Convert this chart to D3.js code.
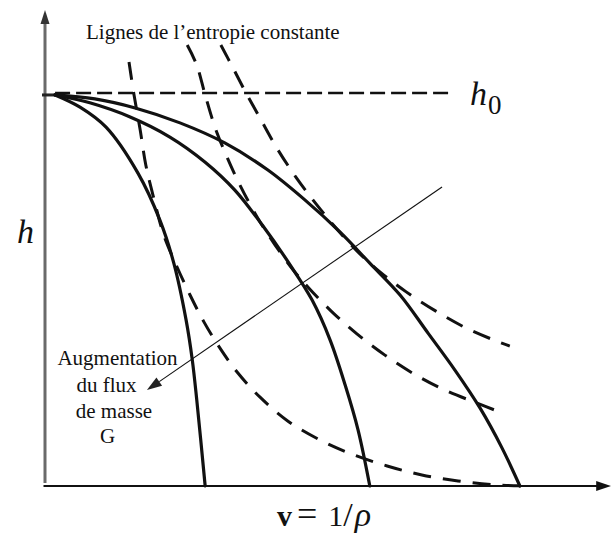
<!DOCTYPE html>
<html><head><meta charset="utf-8">
<script src="https://cdn.jsdelivr.net/npm/d3@7"></script>
<style>
html,body{margin:0;padding:0;background:#fff;}
svg{display:block;}
text{font-family:"Liberation Serif","Times New Roman",serif;fill:#111;}
</style></head><body>
<svg id="chart" width="611" height="536"></svg>
<script>
// Lignes à flux de masse G constant (traits pleins), points (v, h) en unités réduites (h0 = 1)
const lineG1 = [[0.018,0.995],[0.0625,0.964],[0.109,0.913],[0.166,0.796],[0.205,0.677],[0.230,0.567],[0.252,0.422],[0.263,0.321],[0.271,0.219],[0.286,0]];
const lineG2 = [[0.018,0.995],[0.080,0.975],[0.152,0.939],[0.223,0.888],[0.286,0.824],[0.339,0.753],[0.388,0.664],[0.438,0.562],[0.477,0.473],[0.509,0.372],[0.536,0.257],[0.559,0.143],[0.580,0]];
const lineG3 = [[0.018,0.995],[0.089,0.985],[0.161,0.962],[0.241,0.924],[0.321,0.873],[0.398,0.804],[0.464,0.728],[0.527,0.646],[0.580,0.567],[0.634,0.486],[0.684,0.389],[0.732,0.295],[0.777,0.198],[0.816,0.097],[0.848,0]];

// Lignes d'entropie constante (tirets)
const isentropeA = [[0.150,1.079],[0.159,0.995],[0.170,0.906],[0.180,0.817],[0.195,0.728],[0.212,0.639],[0.234,0.563],[0.259,0.486],[0.284,0.417],[0.311,0.354],[0.343,0.290],[0.384,0.226],[0.434,0.165],[0.491,0.117],[0.548,0.081],[0.611,0.051],[0.673,0.028],[0.7375,0.013],[0.804,0.003],[0.866,0]];
const isentropeB = [[0.254,1.122],[0.271,1.071],[0.286,0.995],[0.304,0.911],[0.325,0.837],[0.348,0.766],[0.379,0.684],[0.411,0.613],[0.443,0.550],[0.471,0.504],[0.511,0.445],[0.557,0.387],[0.607,0.333],[0.659,0.285],[0.714,0.244],[0.775,0.209],[0.8125,0.188]];
const isentropeC = [[0.314,1.122],[0.336,1.063],[0.359,1.0],[0.386,0.931],[0.414,0.860],[0.448,0.786],[0.484,0.718],[0.520,0.656],[0.557,0.598],[0.598,0.545],[0.645,0.494],[0.698,0.445],[0.752,0.402],[0.811,0.366],[0.830,0.356]];

// Enthalpie d'arrêt h0 et sens d'augmentation de G
const h0Level = 1;
const h0Span = [0.018, 0.729];
const arrowFrom = [0.709, 0.761];
const arrowTo = [0.182, 0.244];
const axisEnd = {v: 1.011, h: 1.211};

const svg = d3.select("#chart");
const x = d3.scaleLinear().domain([0, 1]).range([45, 605]);
const y = d3.scaleLinear().domain([0, 1]).range([486, 93]);

const line = d3.line().x(d => x(d[0])).y(d => y(d[1])).curve(d3.curveCatmullRom.alpha(0.5));

// Axes
svg.append("line").attr("x1", x(0)).attr("y1", y(0) - 3).attr("x2", x(0)).attr("y2", y(axisEnd.h) + 8)
  .attr("stroke", "#6a6a6a").attr("stroke-width", 3);
svg.append("path")
  .attr("d", `M${x(0)},${y(axisEnd.h)} L${x(0) - 4.5},${y(axisEnd.h) + 14} L${x(0) + 4.5},${y(axisEnd.h) + 14} Z`)
  .attr("fill", "#333");
svg.append("line").attr("x1", x(0) - 1.5).attr("y1", y(0)).attr("x2", x(axisEnd.v) - 12).attr("y2", y(0))
  .attr("stroke", "#111").attr("stroke-width", 2.2);
svg.append("path")
  .attr("d", `M${x(axisEnd.v)},${y(0)} L${x(axisEnd.v) - 15},${y(0) - 5} L${x(axisEnd.v) - 15},${y(0) + 5} Z`)
  .attr("fill", "#111");
// repère de h0 sur l'axe
svg.append("line").attr("x1", x(0) - 3).attr("x2", x(h0Span[0])).attr("y1", y(0.995)).attr("y2", y(0.995))
  .attr("stroke", "#222").attr("stroke-width", 3);

// Palier h0
svg.append("line").attr("x1", x(h0Span[0])).attr("x2", x(h0Span[1])).attr("y1", y(h0Level)).attr("y2", y(h0Level))
  .attr("stroke", "#111").attr("stroke-width", 2.6).attr("stroke-dasharray", "15 6");

// Lignes d'entropie constante
[isentropeA, isentropeB, isentropeC].forEach(pts => {
  svg.append("path").attr("d", line(pts)).attr("fill", "none")
    .attr("stroke", "#111").attr("stroke-width", 3).attr("stroke-dasharray", "18 12");
});

// Lignes à G constant
[lineG1, lineG2, lineG3].forEach(pts => {
  svg.append("path").attr("d", line(pts)).attr("fill", "none")
    .attr("stroke", "#111").attr("stroke-width", 3.2).attr("stroke-linecap", "round");
});

// Flèche d'augmentation de G
const p0 = [x(arrowFrom[0]), y(arrowFrom[1])];
const p1 = [x(arrowTo[0]), y(arrowTo[1])];
const len = Math.hypot(p1[0] - p0[0], p1[1] - p0[1]);
const u = [(p1[0] - p0[0]) / len, (p1[1] - p0[1]) / len];
const nrm = [-u[1], u[0]];
const base = [p1[0] - u[0] * 15, p1[1] - u[1] * 15];
svg.append("line").attr("x1", p0[0]).attr("y1", p0[1]).attr("x2", base[0]).attr("y2", base[1])
  .attr("stroke", "#111").attr("stroke-width", 1.1);
svg.append("path")
  .attr("d", `M${p1[0]},${p1[1]} L${base[0] + nrm[0] * 5},${base[1] + nrm[1] * 5} L${base[0] - nrm[0] * 5},${base[1] - nrm[1] * 5} Z`)
  .attr("fill", "#222");

// Textes
svg.append("text").attr("x", 86).attr("y", 39).attr("font-size", 21).text("Lignes de l’entropie constante");

const h0Label = svg.append("text").attr("x", 470).attr("y", 105).attr("font-size", 34);
h0Label.append("tspan").attr("font-style", "italic").text("h");
h0Label.append("tspan").attr("font-size", 27).attr("dy", 9).attr("dx", 1).text("0");

svg.append("text").attr("x", 17).attr("y", 243).attr("font-size", 34).attr("font-style", "italic").text("h");

const noteLines = [["Augmentation", 117.5, 365], ["du flux", 106.5, 392], ["de masse", 114, 418], ["G", 107.5, 443]];
noteLines.forEach(([t, cx, by]) => {
  svg.append("text").attr("x", cx).attr("y", by).attr("font-size", 21).attr("text-anchor", "middle")
    .attr("xml:space", "preserve").text(t);
});

// v = 1/ρ : écrit en un seul flux de texte
const vLabel = svg.append("text").attr("x", 277).attr("y", 526).attr("font-size", 30).attr("xml:space", "preserve");
vLabel.append("tspan").attr("font-weight", "bold").text("v");
vLabel.append("tspan").attr("dx", 5).attr("font-size", 36).text("=");
vLabel.append("tspan").attr("dx", 11).text("1");
vLabel.append("tspan").attr("font-size", 34).text("/");
vLabel.append("tspan").attr("dx", 2).attr("font-size", 34).attr("font-style", "italic").text("ρ");
</script>
</body></html>
